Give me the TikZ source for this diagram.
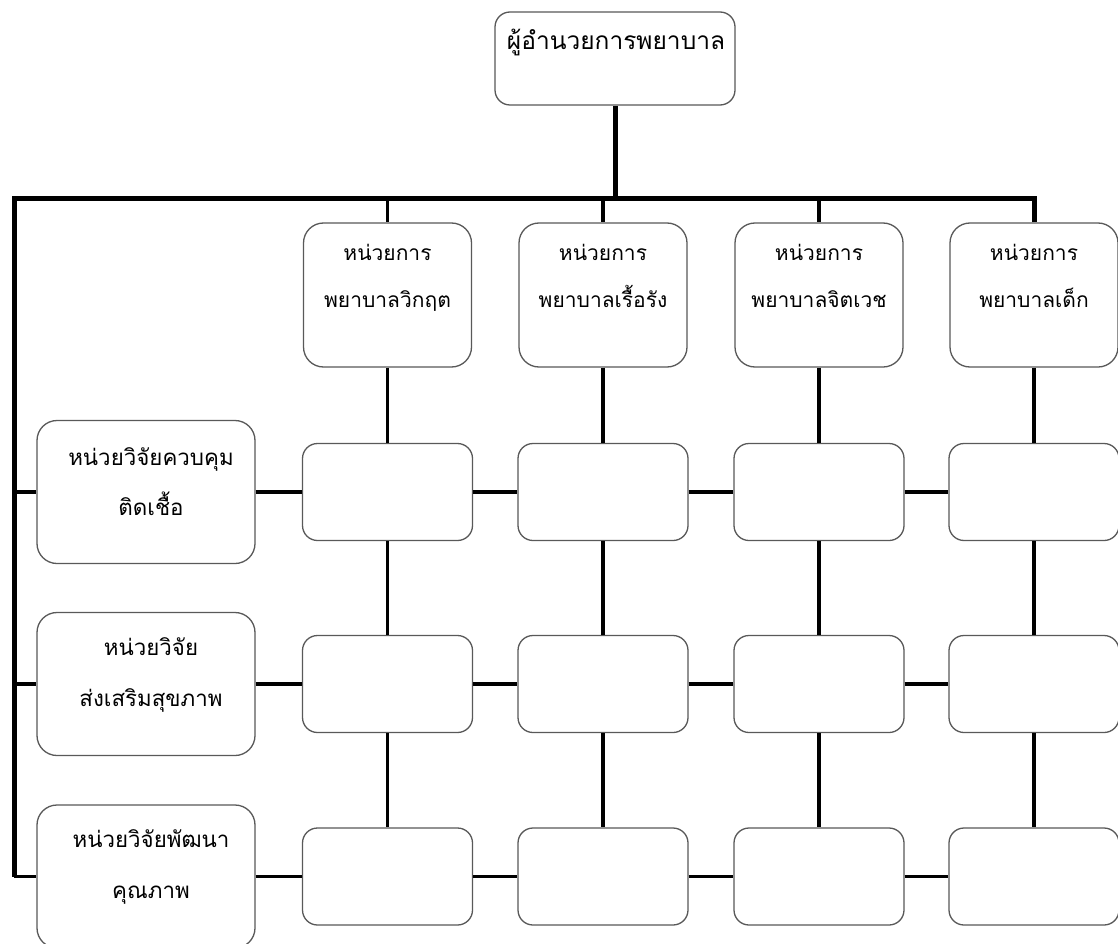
\documentclass[tikz,border=0pt]{standalone}
\usepackage{fontspec}
\newfontfamily\thai[Script=Thai]{Loma}
\begin{document}
\begin{tikzpicture}[x=1pt,y=-1pt,
  box/.style={draw=black!65, line width=1.3pt, fill=white, rectangle, inner sep=0pt},
  topbox/.style={box, rounded corners=15pt, minimum width=240pt, minimum height=93pt},
  headbox/.style={box, rounded corners=20pt, minimum width=168pt, minimum height=144pt},
  cellbox/.style={box, rounded corners=15pt, minimum width=170pt, minimum height=97pt},
  leftbox/.style={box, rounded corners=20pt, minimum width=218pt, minimum height=143pt},
  bus/.style={line width=5pt, black},
  link/.style={line width=3.5pt, black},
  toptxt/.style={anchor=base, inner sep=0pt, font=\thai\fontsize{24.5}{28}\selectfont},
  headtxt/.style={anchor=base, inner sep=0pt, font=\thai\fontsize{21}{24}\selectfont},
  lefttxt/.style={anchor=base, inner sep=0pt, font=\thai\fontsize{22.3}{26}\selectfont}]
\useasboundingbox (0,0) rectangle (1118,944);
\fill[white] (0,0) rectangle (1118,944);

% boxes
\node[topbox] (top) at (615,58.5) {};
\foreach \i/\x in {1/387.5,2/603,3/819,4/1034} {
  \node[headbox] (h\i) at (\x,295) {};
  \node[cellbox] (g\i a) at (\x,492) {};
  \node[cellbox] (g\i b) at (\x,684) {};
  \node[cellbox] (g\i c) at (\x,876.5) {};
}
\node[leftbox] (la) at (146,492) {};
\node[leftbox] (lb) at (146,684) {};
\node[leftbox] (lc) at (146,876.5) {};

% bus
\coordinate (busL) at (14,198);
\draw[bus] (top.south) -- (top.south |- busL);
\draw[bus, line join=miter] (h4.north) |- (busL) -- (busL |- lc.west);
\foreach \i in {1,2,3} \draw[link] (h\i.north |- busL) -- (h\i.north);
\foreach \r in {a,b,c} \draw[link] (busL |- l\r.west) -- (l\r.west);

% grid links
\foreach \i in {1,2,3,4} {
  \draw[link] (h\i.south) -- (g\i a.north);
  \draw[link] (g\i a.south) -- (g\i b.north);
  \draw[link] (g\i b.south) -- (g\i c.north);
}
\foreach \r in {a,b,c} {
  \draw[link] (l\r.east) -- (g1\r.west);
  \draw[link] (g1\r.east) -- (g2\r.west);
  \draw[link] (g2\r.east) -- (g3\r.west);
  \draw[link] (g3\r.east) -- (g4\r.west);
}

% texts
\node[toptxt] (tt) at (616,50) {ผู้อำนวยการพยาบาล};
\node[headtxt] (h1t) at (387.5,260) {หน่วยการ};
\node[headtxt] (h1u) at (387.5,307) {พยาบาลวิกฤต};
\node[headtxt] (h2t) at (603,260) {หน่วยการ};
\node[headtxt] (h2u) at (603,307) {พยาบาลเรื้อรัง};
\node[headtxt] (h3t) at (819,260) {หน่วยการ};
\node[headtxt] (h3u) at (819,307) {พยาบาลจิตเวช};
\node[headtxt] (h4t) at (1034,260) {หน่วยการ};
\node[headtxt] (h4u) at (1034,307) {พยาบาลเด็ก};
\node[lefttxt] (lat) at (151,465) {หน่วยวิจัยควบคุม};
\node[lefttxt] (lau) at (151,515) {ติดเชื้อ};
\node[lefttxt] (lbt) at (151,655) {หน่วยวิจัย};
\node[lefttxt] (lbu) at (151,706) {ส่งเสริมสุขภาพ};
\node[lefttxt] (lct) at (151,847) {หน่วยวิจัยพัฒนา};
\node[lefttxt] (lcu) at (151,898) {คุณภาพ};
\end{tikzpicture}
\end{document}
